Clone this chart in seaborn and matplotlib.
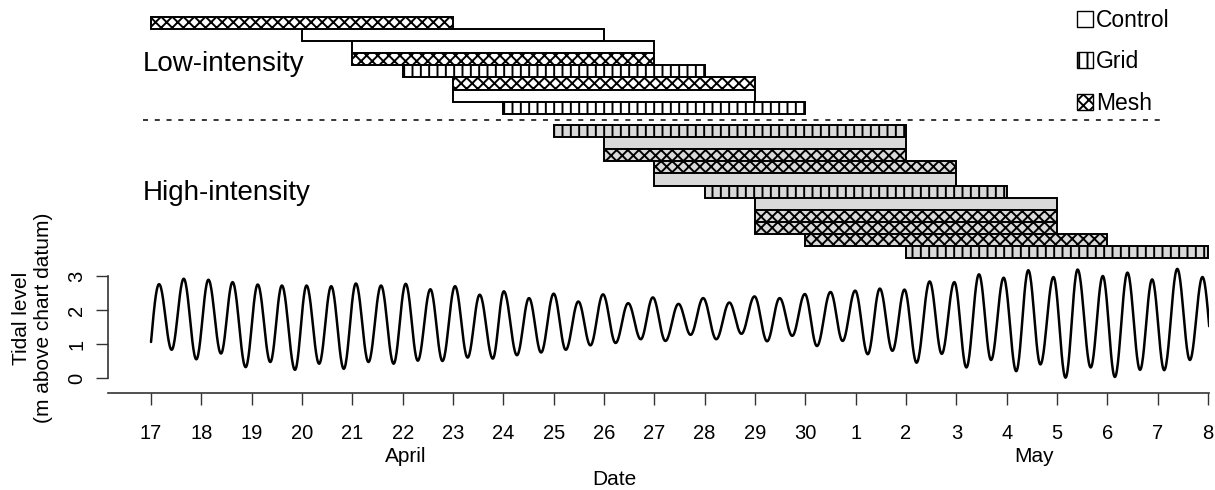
import numpy as np
import pandas as pd
import matplotlib
matplotlib.use("Agg")
import matplotlib.pyplot as plt
from matplotlib.patches import Patch
import seaborn as sns

# ---------------- data ----------------
# days counted from 17 April (0) to 8 May (21)
day_labels = ["17", "18", "19", "20", "21", "22", "23", "24", "25", "26", "27",
              "28", "29", "30", "1", "2", "3", "4", "5", "6", "7", "8"]

low_treat = ["Mesh", "Control", "Control", "Mesh", "Grid", "Mesh", "Control", "Grid"]
low_start = [0, 3, 4, 4, 5, 6, 6, 7]
low_end = [6, 9, 10, 10, 11, 12, 12, 13]

high_treat = ["Grid", "Control", "Mesh", "Mesh", "Control", "Grid", "Control",
              "Mesh", "Mesh", "Mesh", "Grid"]
high_start = [8, 9, 9, 10, 10, 11, 12, 12, 12, 13, 15]
high_end = [15, 15, 15, 16, 16, 17, 18, 18, 18, 19, 21]

# tide: high waters, low waters (time in days from 17 April, level in m)
hw_t = [0.16, 0.65, 1.14, 1.62, 2.12, 2.60, 3.09, 3.58, 4.07, 4.57,
        5.06, 5.55, 6.04, 6.53, 7.01, 7.51, 8.00, 8.49, 8.98, 9.48,
        9.97, 10.48, 10.97, 11.49, 11.99, 12.49, 12.99, 13.50, 13.99, 14.48,
        14.97, 15.47, 15.96, 16.45, 16.94, 17.43, 17.93, 18.41, 18.91, 19.40,
        19.89, 20.39, 20.89]
hw_h = [2.76, 2.92, 2.89, 2.82, 2.75, 2.72, 2.72, 2.70, 2.78, 2.72,
        2.77, 2.61, 2.70, 2.45, 2.55, 2.35, 2.48, 2.25, 2.46, 2.20,
        2.37, 2.18, 2.35, 2.22, 2.40, 2.35, 2.47, 2.53, 2.57, 2.63,
        2.60, 2.84, 2.82, 3.05, 2.95, 3.17, 2.97, 3.19, 3.00, 3.10,
        2.90, 3.21, 2.97]
lw_t = [0.41, 0.90, 1.39, 1.88, 2.37, 2.86, 3.34, 3.83, 4.32, 4.82,
        5.30, 5.79, 6.29, 6.79, 7.27, 7.75, 8.24, 8.73, 9.23, 9.73,
        10.22, 10.72, 11.23, 11.73, 12.24, 12.74, 13.23, 13.74, 14.24, 14.73,
        15.21, 15.71, 16.20, 16.69, 17.19, 17.67, 18.17, 18.67, 19.15, 19.65,
        20.13, 20.64]
lw_h = [0.83, 0.55, 0.72, 0.32, 0.47, 0.24, 0.42, 0.27, 0.47, 0.42,
        0.51, 0.50, 0.60, 0.57, 0.67, 0.75, 0.83, 0.96, 1.03, 1.14,
        1.09, 1.27, 1.14, 1.30, 1.08, 1.24, 0.94, 1.09, 0.70, 0.80,
        0.45, 0.71, 0.31, 0.53, 0.20, 0.40, 0.01, 0.31, 0.03, 0.24,
        0.23, 0.53]
tide_start = (0.0, 1.06)
tide_end = (21.03, 1.42)

# ---------------- style ----------------
sns.set_theme(style="white")
plt.rcParams["font.family"] = ["Liberation Sans", "DejaVu Sans"]
plt.rcParams["hatch.color"] = "black"
plt.rcParams["hatch.linewidth"] = 1.4
for key in ["text.color", "axes.labelcolor", "xtick.color", "ytick.color"]:
    plt.rcParams[key] = "black"

W, H = 1215, 490
fig = plt.figure(figsize=(W / 100, H / 100), dpi=100)

ax_left, ax_right = 108, 1209
x_lo, x_hi = -0.855, 21.02

# bottom tide axes: pixel rows 262..393
axb = fig.add_axes([ax_left / W, (H - 393) / H, (ax_right - ax_left) / W, (393 - 262) / H])
# top gantt axes: pixel rows 0..262
axt = fig.add_axes([ax_left / W, (H - 262) / H, (ax_right - ax_left) / W, 262 / H])

# ---------------- gantt ----------------
hatches = {"Control": "", "Grid": "||", "Mesh": "xxx"}
rows = []
for i, (tr, s, e) in enumerate(zip(low_treat, low_start, low_end)):
    rows.append((i, tr, s, e, "white"))
for i, (tr, s, e) in enumerate(zip(high_treat, high_start, high_end)):
    rows.append((len(low_treat) + 0.93 + i, tr, s, e, "#d9d9d9"))

for ypos, tr, s, e, fc in rows:
    axt.barh(ypos, e - s, left=s, height=1.0, facecolor=fc, edgecolor="black",
             linewidth=1.4, hatch=hatches[tr])

axt.plot([-0.16, 20.06], [len(low_treat), len(low_treat)], color="black",
         linestyle=(0, (3.3, 4.4)), linewidth=1.1)
axt.text(-0.17, 3.4, "Low-intensity", fontsize=20, ha="left", va="center")
axt.text(-0.17, 14.05, "High-intensity", fontsize=20, ha="left", va="center")
axt.set_xlim(x_lo, x_hi)
axt.set_ylim(19.75, -1.90)
axt.axis("off")

handles = [Patch(facecolor="white", edgecolor="black", hatch=hatches[k], linewidth=1.0)
           for k in ["Control", "Grid", "Mesh"]]
fig.legend(handles, ["Control", "Grid", "Mesh"], loc="upper left",
           bbox_to_anchor=(1077 / W, 1 - 9 / H), frameon=False, fontsize=16.5,
           borderpad=0, borderaxespad=0, handlelength=0.7, handleheight=0.7,
           handletextpad=0.12, labelspacing=0.8)

# ---------------- tide ----------------
pts = sorted([tide_start] + list(zip(hw_t, hw_h)) + list(zip(lw_t, lw_h)) + [tide_end])
xs, ys = [], []
n = len(pts)
for k in range(n - 1):
    (t0, h0), (t1, h1) = pts[k], pts[k + 1]
    s = np.linspace(0, 1, 25, endpoint=(k == n - 2))
    if k == 0:
        f = np.sin(np.pi / 2 * s)
    elif k == n - 2:
        f = 1 - np.cos(np.pi / 2 * s)
    else:
        f = (1 - np.cos(np.pi * s)) / 2
    xs.extend(t0 + (t1 - t0) * s)
    ys.extend(h0 + (h1 - h0) * f)
tide_df = pd.DataFrame({"day": xs, "level": ys})
sns.lineplot(data=tide_df, x="day", y="level", ax=axb, color="black",
             linewidth=1.8, sort=False, estimator=None)

axb.set_xlim(x_lo, x_hi)
axb.set_ylim(-(393 - 378) / 34, (378 - 262) / 34)
for side in ["top", "right"]:
    axb.spines[side].set_visible(False)
axb.spines["left"].set_bounds(0, 3)
for side in ["left", "bottom"]:
    axb.spines[side].set_color("#333333")
    axb.spines[side].set_linewidth(1.2)

axb.set_xticks(range(len(day_labels)))
axb.set_xticklabels(day_labels, fontsize=14.5)
axb.set_yticks([0, 1, 2, 3])
axb.set_yticklabels(["0", "1", "2", "3"], fontsize=14.5, rotation=90, va="center")
axb.tick_params(axis="x", direction="out", length=8.6, width=1.0, pad=14,
                bottom=True, color="#333333")
axb.tick_params(axis="y", direction="out", length=8.6, width=1.0, pad=7,
                left=True, color="#333333")
axb.set_xlabel("")
axb.set_ylabel("")

# month labels and axis titles
axb.text(5.05, -(456 - 378) / 34, "April", fontsize=15, ha="center", va="center", clip_on=False)
axb.text(17.55, -(456 - 378) / 34, "May", fontsize=15, ha="center", va="center", clip_on=False)
axb.text(9.2, -(479 - 378) / 34, "Date", fontsize=15, ha="center", va="center", clip_on=False)
fig.text(33 / W, 1 - 318 / H, "Tidal level\n(m above chart datum)", fontsize=15,
         rotation=90, ha="center", va="center", multialignment="center", linespacing=1.2)

fig.savefig("out.png", dpi=100)
